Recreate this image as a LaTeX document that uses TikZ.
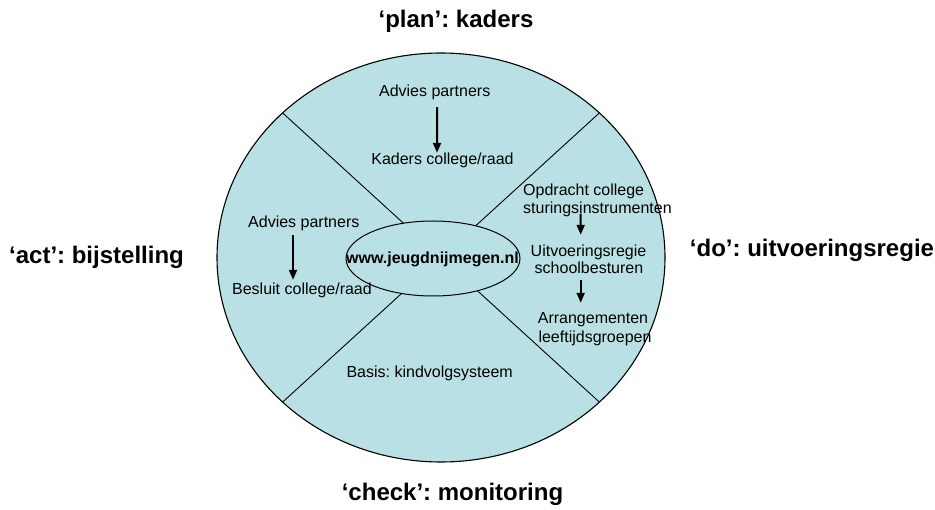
\documentclass[tikz,border=0pt]{standalone}
\usepackage{fontspec}
\setmainfont{Liberation Sans}
\usetikzlibrary{arrows.meta}
\definecolor{disc}{RGB}{185,224,228}
\frenchspacing
\begin{document}
\begin{tikzpicture}[x=1pt,y=-1pt,
  body/.style={font=\fontsize{16}{19}\selectfont, inner sep=0pt, text height=12pt, text depth=4pt},
  hub/.style={font=\fontsize{16}{19}\selectfont\bfseries, inner sep=0pt, text height=12pt, text depth=4pt},
  phase/.style={font=\fontsize{24}{28}\selectfont\bfseries, inner sep=0pt, text height=18pt, text depth=5pt},
  flow/.style={draw=black, line width=2pt, -{Triangle[length=10pt,width=8pt]}},
  divider/.style={draw=black, line width=0.9pt},
  rim/.style={fill=disc, draw=black, line width=1.1pt}]
\useasboundingbox (0,0) rectangle (935,510);
\fill[white] (0,0) rectangle (935,510);

% outer disc and its four sector boundaries
\coordinate (c) at (441,257.5);
\path[rim] (c) ellipse [x radius=224, y radius=204.5];
\coordinate (nw) at (282.6,112.9);
\coordinate (ne) at (599.4,112.9);
\coordinate (sw) at (282.6,402.1);
\coordinate (se) at (599.4,402.1);
\foreach \p in {nw,ne,sw,se} \draw[divider] (c) -- (\p);

% central hub
\path[rim, line width=1pt] (433,258.5) ellipse [x radius=87, y radius=37.5];
\node[hub] (url) at (432.5,260) {www.jeugdnijmegen.nl};

% phase labels around the disc
\node[phase] (plan)  at (456,21)    {‘plan’: kaders};
\node[phase] (act)   at (96.5,257)  {‘act’: bijstelling};
\node[phase] (do)    at (812,250)   {‘do’: uitvoeringsregie};
\node[phase] (check) at (452.5,494) {‘check’: monitoring};

% plan sector
\node[body] (advtop) at (434.7,93)  {Advies partners};
\node[body] (kadtop) at (442.5,161) {Kaders college/raad};
\draw[flow] ([shift={(2.5,6)}]advtop.south) -- ([shift={(-5.5,0)}]kadtop.north);

% do sector
\node[body, anchor=west] (opd1) at (523,191.5) {Opdracht college};
\node[body, anchor=west] (opd2) at (523,209.5) {sturingsinstrumenten};
\node[body] (uit1) at (588.5,252.5) {Uitvoeringsregie};
\node[body] (uit2) at (589,270)     {schoolbesturen};
\node[body] (arr1) at (593,320)     {Arrangementen};
\node[body] (arr2) at (595,338.5)   {leeftijdsgroepen};
\draw[flow] ([shift={(-16.8,-4)}]opd2.south) -- ([shift={(-7.8,-9.5)}]uit1.north);
\draw[flow] ([shift={(-8.3,2)}]uit2.south) -- ([shift={(-12.3,-9)}]arr1.north);

% act sector
\node[body] (advleft) at (303.8,223.5) {Advies partners};
\node[body] (besluit) at (302,291)     {Besluit college/raad};
\draw[flow] ([shift={(-10.8,3.5)}]advleft.south) -- ([shift={(-9,-3)}]besluit.north);

% check sector
\node[body] (basis) at (429.7,374) {Basis: kindvolgsysteem};
\end{tikzpicture}
\end{document}
